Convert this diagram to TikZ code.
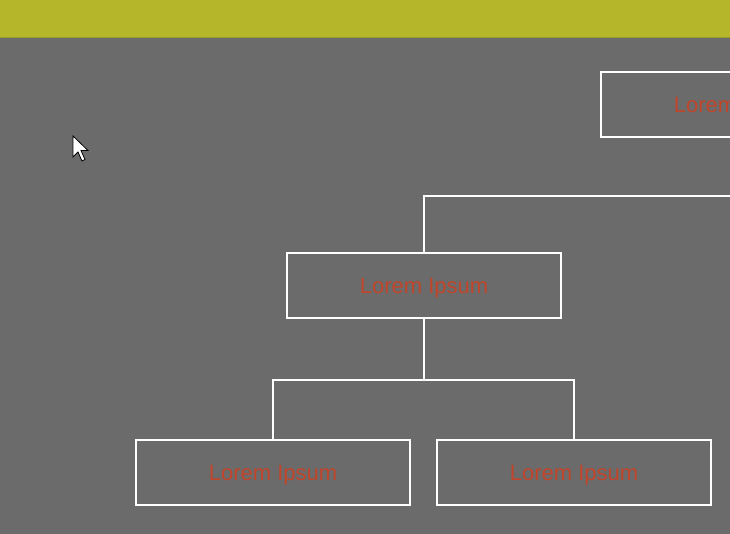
\documentclass[tikz,border=0pt]{standalone}
\usepackage{fontspec}
\setmainfont{Liberation Sans}
\usepackage{xcolor}
\usetikzlibrary{positioning}
\definecolor{bandgreen}{HTML}{B5B62A}
\definecolor{bandedge}{HTML}{9A9B26}
\definecolor{canvasgray}{HTML}{6B6B6B}
\definecolor{labelred}{HTML}{C0452A}

\begin{document}
\begin{tikzpicture}[x=1pt, y=1pt,
    box/.style={rectangle, draw=white, line width=2pt, minimum width=274pt, minimum height=65pt, text height=16pt, text depth=0pt, text=labelred, font=\fontsize{22}{25}\selectfont},
    link/.style={draw=white, line width=2pt},
    pointer/.style={fill=white, draw=black, line width=0.8pt, line join=miter}
]
\useasboundingbox (0,0) rectangle (730,534);
\clip (0,0) rectangle (730,534);

% Background and top band
\fill [canvasgray] (0,0) rectangle (730,534);
\fill [bandgreen] (0,496) rectangle (730,534);
\draw [bandedge, line width=1pt] (0,496) -- (730,496);

% Boxes
\node [box] (root) at (738,429.5) {Lorem Ipsum};
\node [box, below=114pt of root, xshift=-314pt] (mid) {Lorem Ipsum};
\node [box, below=120pt of mid, xshift=-151pt] (left) {Lorem Ipsum};
\node [box, right=25pt of left] (right) {Lorem Ipsum};

% Connectors
\draw [link] (root.south) -- ++(0,-58) -| (mid.north);
\draw [link] (mid.south) -- ++(0,-61) -| (left.north);
\draw [link] (mid.south) -- ++(0,-61) -| (right.north);

% Mouse pointer
\draw [pointer] (73,398) -- (73,377) -- (78,382) -- (82,373) -- (85,374.5) -- (81,383.5) -- (88,383.5) -- cycle;

\end{tikzpicture}
\end{document}
